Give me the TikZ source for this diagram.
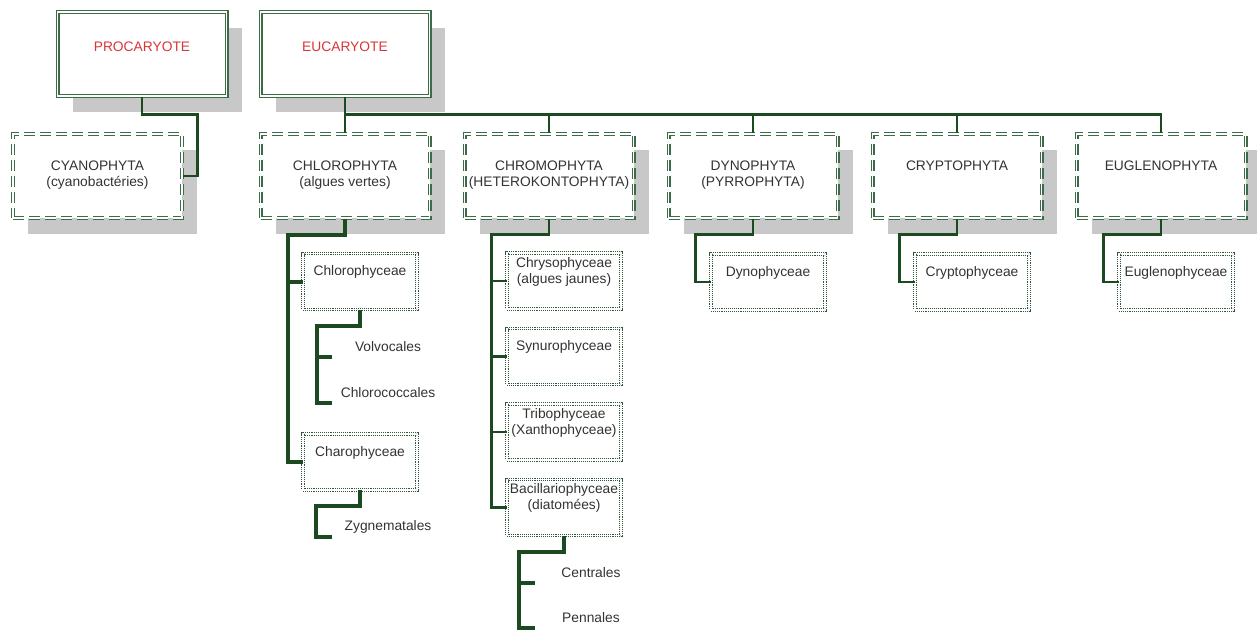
\documentclass[tikz,border=0pt]{standalone}
\usepackage{fontspec}
\setmainfont{Liberation Sans}
\usetikzlibrary{shadows}
\definecolor{linkGreen}{HTML}{1B4A20}
\definecolor{boxGreen}{HTML}{3E6B47}
\definecolor{shadowGray}{HTML}{C8C8C8}
\definecolor{textGray}{HTML}{333333}
\definecolor{titleRed}{HTML}{D8373A}

\begin{document}
\begin{tikzpicture}[x=1pt, y=-1pt,
    rootbox/.style={rectangle, draw=boxGreen, line width=1.1pt, double=white, double distance=1.8pt,
        fill=white, minimum width=169pt, minimum height=84pt,
        general shadow={fill=shadowGray, shadow xshift=15pt, shadow yshift=-16pt}},
    phylumbox/.style={rootbox, dash pattern=on 11pt off 5pt},
    classbox/.style={rectangle, draw=boxGreen!80!black, line width=0.9pt, double=white, double distance=1.4pt,
        dash pattern=on 1pt off 0.9pt, fill=white, minimum width=114pt, minimum height=56pt},
    boxtext/.style={font=\fontsize{13.8pt}{16pt}\selectfont, text=textGray, align=center, inner sep=0pt},
    roottext/.style={label={[boxtext, text=titleRed, anchor=north, yshift=-30pt]north:#1}},
    phylumtext/.style={label={[boxtext, anchor=north, yshift=-27pt]north:#1}},
    classtext/.style={label={[boxtext, anchor=center, yshift=-19pt]north:#1}},
    link/.style={draw=linkGreen, line width=2.2pt},
    thicklink/.style={draw=linkGreen, line width=4pt}]
    \useasboundingbox (0,0) rectangle (1257,631);

    % kingdoms
    \node[rootbox, roottext=PROCARYOTE] (procar) at (142,54) {};
    \node[rootbox, roottext=EUCARYOTE] (eucar) at (345,54) {};

    % phyla
    \node[phylumbox, phylumtext={CYANOPHYTA\\(cyanobactéries)}] (cyano) at (97.5,176) {};
    \node[phylumbox, phylumtext={CHLOROPHYTA\\(algues vertes)}] (chloro) at (345,176) {};
    \node[phylumbox, phylumtext={CHROMOPHYTA\\(HETEROKONTOPHYTA)}] (chromo) at (549,176) {};
    \node[phylumbox, phylumtext={DYNOPHYTA\\(PYRROPHYTA)}] (dyno) at (753,176) {};
    \node[phylumbox, phylumtext=CRYPTOPHYTA] (crypto) at (957,176) {};
    \node[phylumbox, phylumtext=EUGLENOPHYTA] (euglen) at (1161,176) {};

    % classes
    \node[classbox, classtext=Chlorophyceae] (chlorocy) at (360,281.5) {};
    \node[classbox, classtext=Charophyceae] (charo) at (360,462) {};
    \node[classbox, classtext={Chrysophyceae\\(algues jaunes)}] (chryso) at (564,281) {};
    \node[classbox, classtext=Synurophyceae] (synuro) at (564,356.5) {};
    \node[classbox, classtext={Tribophyceae\\(Xanthophyceae)}] (tribo) at (564,432) {};
    \node[classbox, classtext={Bacillariophyceae\\(diatomées)}] (bacil) at (564,507.5) {};
    \node[classbox, classtext=Dynophyceae] (dynocl) at (768,282) {};
    \node[classbox, classtext=Cryptophyceae] (cryptocl) at (972,282) {};
    \node[classbox, classtext=Euglenophyceae] (euglencl) at (1176,282) {};

    % orders
    \coordinate (volvoEnd) at (332,357);
    \coordinate (chloroccEnd) at (332,403);
    \coordinate (zygneEnd) at (332,537);
    \coordinate (centrEnd) at (535,583);
    \coordinate (pennEnd) at (535,628);
    \node[boxtext] (volvo) at ([xshift=56pt, yshift=10pt]volvoEnd) {Volvocales};
    \node[boxtext] (chloroccal) at ([xshift=56pt, yshift=10pt]chloroccEnd) {Chlorococcales};
    \node[boxtext] (zygne) at ([xshift=56pt, yshift=10pt]zygneEnd) {Zygnematales};
    \node[boxtext] (centr) at ([xshift=56pt, yshift=10pt]centrEnd) {Centrales};
    \node[boxtext] (penn) at ([xshift=56pt, yshift=10pt]pennEnd) {Pennales};

    % connectors
    \draw[link] (procar.south) -- ++(0,18) -| ([xshift=15pt]cyano.east) -- (cyano.east);
    \coordinate (bus) at ([yshift=-18pt]eucar.south);
    \draw[link] (eucar.south) -- (chloro.north);
    \draw[link] (bus) -| (euglen.north);
    \foreach \n in {chromo, dyno, crypto}
        \draw[link] (bus -| \n.north) -- (\n.north);

    \draw[thicklink] (chloro.south) -- ++(0,16) -| ([xshift=-15pt]charo.west) -- (charo.west);
    \draw[thicklink] ([xshift=-15pt]chlorocy.west) -- (chlorocy.west);
    \draw[thicklink] (chlorocy.south) -- ++(0,16) -| ([xshift=-15pt]chloroccEnd) -- (chloroccEnd);
    \draw[thicklink] ([xshift=-15pt]volvoEnd) -- (volvoEnd);
    \draw[thicklink] (charo.south) -- ++(0,16) -| ([xshift=-16pt]zygneEnd) -- (zygneEnd);

    \draw[link] (chromo.south) -- ++(0,16) -| ([xshift=-15pt]bacil.west) -- (bacil.west);
    \foreach \n in {chryso, synuro, tribo}
        \draw[link] ([xshift=-15pt]\n.west) -- (\n.west);
    \draw[thicklink] (bacil.south) -- ++(0,16) -| ([xshift=-16pt]pennEnd) -- (pennEnd);
    \draw[thicklink] ([xshift=-16pt]centrEnd) -- (centrEnd);

    \draw[link] (dyno.south) -- ++(0,16) -| ([xshift=-15pt]dynocl.west) -- (dynocl.west);
    \draw[link] (crypto.south) -- ++(0,16) -| ([xshift=-15pt]cryptocl.west) -- (cryptocl.west);
    \draw[link] (euglen.south) -- ++(0,16) -| ([xshift=-15pt]euglencl.west) -- (euglencl.west);
\end{tikzpicture}
\end{document}
